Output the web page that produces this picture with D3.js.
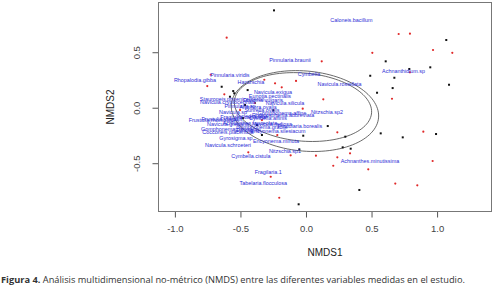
<!DOCTYPE html>
<html>
<head>
<meta charset="utf-8">
<script src="https://cdnjs.cloudflare.com/ajax/libs/d3/7.8.5/d3.min.js"></script>
<style>
  body { margin: 0; background: #fff; }
  svg { display: block; }
</style>
</head>
<body>
<div id="nmds_plot"></div>
<script>
// species labels (blue text) : name, NMDS1, NMDS2
const spNames = ["Caloneis.bacillum","Pinnularia.braunii","Achnanthidium.sp","Cymbella","Navicula.rostellata",
  "Pinnularia.viridis","Rhopalodia.gibba","Hantzschia","Navicula.exigua","Nitzschia.sp2","Nitzschia.sp1",
  "Encyonema.minuta","Cymbella.cistula","Navicula.schroeteri","Achnanthes.minutissima","Fragilaria.1",
  "Tabelaria.flocculosa","Frustulia.rhomboides","Frustulia.vulgaris","Stauroneis.phoenicenteron",
  "Navicula.cryptocephala","Navicula.sp","Navicula.gregaria","Gomphonema.parvulum","Cocconeis.placentula",
  "Pinnularia.borealis","Eunotia.pectinalis","Navicula.silicula","Gomphonema.affine","Surirella.ovalis",
  "Synedra.ulna","Amphora.ovalis","Diatoma.vulgaris","Achnanthes.lanceolata","Fragilaria.capucina",
  "Cymbella.affinis","Navicula.radiosa","Gomphonema.gracile","Eunotia.sp","Rhoicosphenia.abbreviata",
  "Pinnularia.sp","Encyonema.silesiacum","Gyrosigma.sp"];
const spX = [0.347,-0.122,0.744,0.023,0.256,-0.580,-0.847,-0.420,-0.252,0.160,-0.160,-0.229,-0.420,-0.595,
  0.488,-0.288,-0.326,-0.702,-0.641,-0.564,-0.595,-0.557,-0.595,-0.580,-0.595,-0.046,-0.275,-0.160,-0.183,
  -0.336,-0.412,-0.366,-0.328,-0.427,-0.481,-0.290,-0.259,-0.336,-0.442,-0.175,-0.503,-0.214,-0.534];
const spY = [0.786,0.427,0.333,0.304,0.214,0.292,0.250,0.232,0.141,-0.041,-0.390,-0.300,-0.435,-0.336,
  -0.480,-0.582,-0.676,-0.111,-0.102,0.081,0.054,-0.043,-0.147,-0.195,-0.223,-0.169,0.105,0.042,-0.048,
  -0.021,-0.075,0.006,0.069,-0.138,-0.084,-0.093,-0.147,-0.174,-0.201,-0.066,0.015,-0.210,-0.273];

// site scores (black points)
const siteX = [-0.244,1.070,0.608,0.948,0.788,0.674,0.490,0.661,1.091,0.542,-0.249,0.166,-0.021,0.300,
  0.570,0.738,0.992,-0.051,0.280,0.341,0.407,-0.056,-0.643,-0.555,-0.547,-0.445,-0.580,-0.465,-0.481,
  -0.374,-0.336];
const siteY = [0.877,0.610,0.418,0.364,0.349,0.270,0.288,0.177,0.207,0.135,-0.023,-0.165,-0.252,-0.261,
  -0.231,-0.267,-0.237,-0.375,-0.357,-0.369,-0.741,-0.870,0.189,0.150,0.130,0.159,0.099,0.024,-0.093,
  -0.156,-0.246];

// species scores (red points)
const specX = [-0.605,0.707,0.793,0.969,1.116,0.506,0.120,0.793,-0.076,-0.236,-0.318,-0.185,0.656,0.132,
  -0.025,-0.727,-0.753,-0.623,-0.219,0.239,0.895,0.336,0.076,-0.117,0.239,0.208,0.475,0.966,-0.269,
  0.681,0.849,-0.204,-0.440,-0.389,-0.336,-0.503];
const specY = [0.631,0.664,0.667,0.520,0.495,0.495,0.418,0.319,0.241,0.220,0.252,0.184,0.081,0.076,
  -0.009,0.297,0.195,0.121,-0.246,-0.222,-0.216,-0.411,-0.432,-0.429,-0.447,-0.523,-0.555,-0.480,-0.622,
  -0.683,-0.699,-0.811,-0.402,0.042,-0.111,-0.021];

// ordiellipse parameters: centre, semi axes, rotation (data units)
const ellCx = [-0.008, -0.023];
const ellCy = [-0.030, 0.006];
const ellA = [0.565, 0.526];
const ellB = [0.36, 0.306];
const ellRot = [-0.13, -0.12];

// axis ticks
const xTicks = [-1.0, -0.5, 0.0, 0.5, 1.0];
const yTicks = [-0.5, 0.0, 0.5];

const W = 495, H = 286;
const box = {left: 158.5, right: 491.5, top: 2.5, bottom: 211.5};

const svg = d3.select("#nmds_plot")
  .append("svg")
    .attr("width", W)
    .attr("height", H);

const x = d3.scaleLinear().domain([-1.125, 1.415]).range([box.left, box.right]);
const y = d3.scaleLinear().domain([-0.935, 0.948]).range([box.bottom, box.top]);

const fmt = d => d.toFixed(1);

// x axis
const xAxis = svg.append("g")
  .attr("transform", `translate(0,${box.bottom})`)
  .call(d3.axisBottom(x).tickValues(xTicks).tickFormat(fmt).tickSize(6).tickPadding(8));
xAxis.select(".domain").remove();
xAxis.selectAll("line").attr("stroke", "#555");
xAxis.selectAll("text")
  .attr("font-family", "Liberation Sans, Arial, sans-serif")
  .attr("font-size", "9.5px")
  .attr("fill", "#444");

// y axis, labels parallel to the axis like R
const yAxis = svg.append("g")
  .attr("transform", `translate(${box.left},0)`)
  .call(d3.axisLeft(y).tickValues(yTicks).tickFormat(fmt).tickSize(6));
yAxis.select(".domain").remove();
yAxis.selectAll("line").attr("stroke", "#555");
yAxis.selectAll("text")
  .attr("x", 0).attr("dy", 0)
  .attr("text-anchor", "middle")
  .attr("transform", "translate(-18.6,0) rotate(-90)")
  .attr("font-family", "Liberation Sans, Arial, sans-serif")
  .attr("font-size", "9.5px")
  .attr("fill", "#444");

// plot frame
svg.append("rect")
  .attr("x", box.left).attr("y", box.top)
  .attr("width", box.right - box.left).attr("height", box.bottom - box.top)
  .attr("fill", "none")
  .attr("stroke", "#777")
  .attr("stroke-width", 1);

// axis titles
svg.append("text")
  .attr("x", (box.left + box.right) / 2).attr("y", 256)
  .attr("text-anchor", "middle")
  .attr("font-family", "Liberation Sans, Arial, sans-serif")
  .attr("font-size", "10px")
  .attr("fill", "#222")
  .text("NMDS1");
svg.append("text")
  .attr("transform", `translate(114,${(box.top + box.bottom) / 2}) rotate(-90)`)
  .attr("text-anchor", "middle")
  .attr("font-family", "Liberation Sans, Arial, sans-serif")
  .attr("font-size", "10px")
  .attr("fill", "#222")
  .text("NMDS2");

// ellipses
const ellLine = d3.line().x(d => x(d[0])).y(d => y(d[1])).curve(d3.curveLinearClosed);
ellCx.forEach((cx, i) => {
  const pts = d3.range(0, 2 * Math.PI, Math.PI / 60).map(t => {
    const ex = ellA[i] * Math.cos(t), ey = ellB[i] * Math.sin(t);
    return [cx + ex * Math.cos(ellRot[i]) - ey * Math.sin(ellRot[i]),
            ellCy[i] + ex * Math.sin(ellRot[i]) + ey * Math.cos(ellRot[i])];
  });
  svg.append("path")
    .attr("d", ellLine(pts))
    .attr("fill", "none")
    .attr("stroke", "#444")
    .attr("stroke-width", 0.8);
});

// site points
svg.append("g").selectAll("rect")
  .data(siteX.map((v, i) => [v, siteY[i]]))
  .join("rect")
    .attr("x", d => x(d[0]) - 1)
    .attr("y", d => y(d[1]) - 1)
    .attr("width", 2).attr("height", 2)
    .attr("fill", "#111");

// species points
svg.append("g").selectAll("circle")
  .data(specX.map((v, i) => [v, specY[i]]))
  .join("circle")
    .attr("cx", d => x(d[0]))
    .attr("cy", d => y(d[1]))
    .attr("r", 1.1)
    .attr("fill", "#e02828");

// species labels
svg.append("g").selectAll("text")
  .data(spNames.map((n, i) => ({name: n, vx: spX[i], vy: spY[i]})))
  .join("text")
    .attr("x", d => x(d.vx))
    .attr("y", d => y(d.vy))
    .attr("dy", "0.35em")
    .attr("text-anchor", "middle")
    .attr("font-family", "Liberation Sans, Arial, sans-serif")
    .attr("font-size", "5.4px")
    .attr("fill", "#2b2bd6")
    .text(d => d.name);

// caption
const cap = svg.append("text")
  .attr("x", 1).attr("y", 283)
  .attr("font-family", "Open Sans, Lato, sans-serif")
  .attr("font-size", "8.6px")
  .attr("fill", "#333");
cap.append("tspan").attr("font-weight", "bold").text("Figura 4.");
cap.append("tspan").text(" Análisis multidimensional no-métrico (NMDS) entre las diferentes variables medidas en el estudio.");
cap.attr("textLength", 464).attr("lengthAdjust", "spacingAndGlyphs");
</script>
</body>
</html>
